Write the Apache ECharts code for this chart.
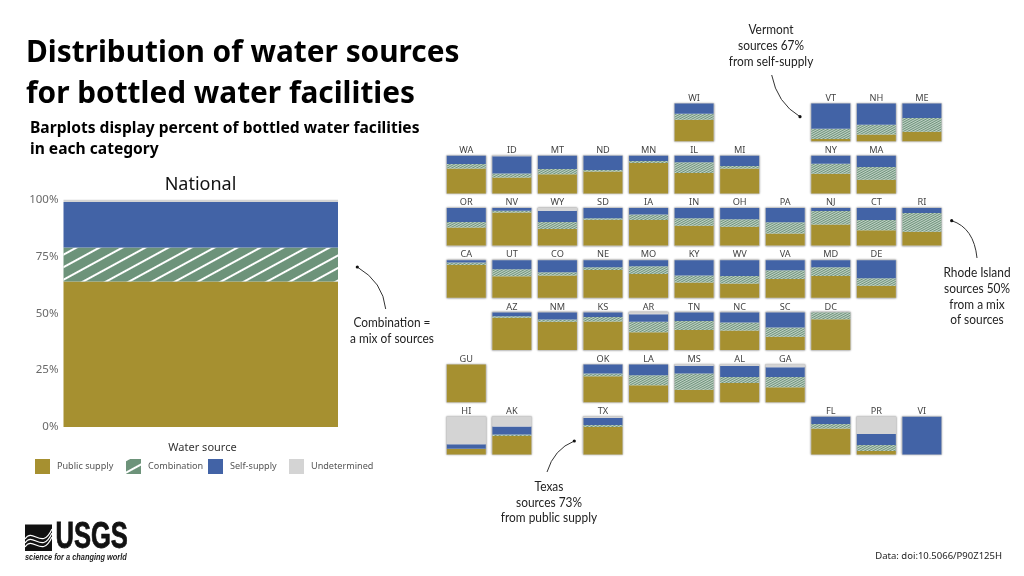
<!DOCTYPE html>
<html>
<head>
<meta charset="utf-8">
<style>html,body{margin:0;padding:0;background:#fff}#c{width:1024px;height:576px}</style>
<script src="https://cdn.jsdelivr.net/npm/echarts@6/dist/echarts.min.js"></script>
</head>
<body>
<div id="c"></div>
<script>
const sourceNames = ['Public supply', 'Combination', 'Self-supply', 'Undetermined'];
const yTickLabels = ['0%', '25%', '50%', '75%', '100%'];

const nationalValues = [64, 15, 20, 1];

const states        = ['WI','VT','NH','ME','WA','ID','MT','ND','MN','IL','MI','NY','MA','OR','NV','WY','SD','IA','IN','OH','PA','NJ','CT','RI','CA','UT','CO','NE','MO','KY','WV','VA','MD','DE','AZ','NM','KS','AR','TN','NC','SC','DC','GU','OK','LA','MS','AL','GA','HI','AK','TX','FL','PR','VI'];
const publicSupply  = [57,  6, 18, 25, 66, 42, 51, 58, 81, 54, 66, 52, 36, 48, 88, 44, 69, 68, 53, 50, 32, 56, 41, 37, 87, 57, 59, 74, 63, 41, 38, 50, 58, 32, 86, 75, 76, 47, 53, 52, 35, 82,100, 69, 45, 33, 51, 40, 15, 49, 73, 69,  9,  0];
const combination   = [16, 27, 26, 37, 12, 11, 14,  4,  5, 29,  7, 27, 34, 15,  5, 19,  4, 15, 20, 20, 30, 36, 27, 50,  7, 19,  9,  7, 21, 18, 20, 23, 23, 20,  4,  6, 12, 28, 24, 21, 25, 18,  0,  7, 27, 43, 16, 27,  0,  4,  5, 12, 16,  0];
const selfSupply    = [27, 67, 56, 38, 22, 46, 35, 38, 14, 17, 27, 21, 30, 37,  7, 30, 27, 17, 27, 30, 38,  8, 32, 13,  6, 24, 32, 19, 16, 41, 42, 27, 19, 48, 10, 19, 12, 20, 23, 27, 40,  0,  0, 24, 28, 21, 29, 26, 12, 21, 19, 19, 29,100];
const undetermined  = [ 0,  0,  0,  0,  0,  1,  0,  0,  0,  0,  0,  0,  0,  0,  0,  7,  0,  0,  0,  0,  0,  0,  0,  0,  0,  0,  0,  0,  0,  0,  0,  0,  0,  0,  0,  0,  0,  5,  0,  0,  0,  0,  0,  0,  0,  3,  4,  7, 73, 26,  3,  0, 46,  0];
const tileRow       = [ 0,  0,  0,  0,  1,  1,  1,  1,  1,  1,  1,  1,  1,  2,  2,  2,  2,  2,  2,  2,  2,  2,  2,  2,  3,  3,  3,  3,  3,  3,  3,  3,  3,  3,  4,  4,  4,  4,  4,  4,  4,  4,  5,  5,  5,  5,  5,  5,  6,  6,  6,  6,  6,  6];
const tileCol       = [ 5,  8,  9, 10,  0,  1,  2,  3,  4,  5,  6,  8,  9,  0,  1,  2,  3,  4,  5,  6,  7,  8,  9, 10,  0,  1,  2,  3,  4,  5,  6,  7,  8,  9,  1,  2,  3,  4,  5,  6,  7,  8,  0,  3,  4,  5,  6,  7,  0,  1,  3,  8,  9, 10];

const colors = ['#a69030', '#6d937a', '#4263a6', '#d4d4d4'];
const textFont = '"Noto Sans"';
const handFont = 'Lato';

const grids = [], xAxes = [], yAxes = [], series = [];

function addPanel(opts, values, decal) {
  const i = grids.length;
  grids.push(opts.grid);
  xAxes.push({
    type: 'category', gridIndex: i, data: [opts.label || ''], position: 'top',
    name: opts.label || '', nameLocation: 'middle', nameGap: 1,
    nameTextStyle: { fontFamily: textFont, fontSize: 9.2, color: '#444' },
    axisLine: { show: false }, axisTick: { show: false }, axisLabel: { show: false }, splitLine: { show: false }
  });
  yAxes.push(Object.assign({
    type: 'value', gridIndex: i, min: 0, max: 100, interval: 25,
    axisLine: { show: false }, axisTick: { show: false }, splitLine: { show: false }, axisLabel: { show: false }
  }, opts.y || {}));
  values.forEach((v, k) => {
    const itemStyle = { color: colors[k] };
    if (k === 1) itemStyle.decal = decal;
    series.push({
      type: 'bar', name: sourceNames[k], stack: 's' + i, xAxisIndex: i, yAxisIndex: i,
      data: [v], barWidth: '100%', silent: true, itemStyle
    });
  });
}

const bigDecal = { symbol: 'rect', symbolSize: 1, color: '#ffffff', dashArrayX: [1, 0], dashArrayY: [2, 9], rotation: -Math.PI / 6.3 };
const tinyDecal = { symbol: 'rect', symbolSize: 1, color: 'rgba(255,255,255,0.6)', dashArrayX: [1, 0], dashArrayY: [1, 1], rotation: -Math.PI / 6.3 };

addPanel({
  grid: { left: 63.5, top: 199.7, width: 274.5, height: 227.3 },
  y: { axisLabel: { show: true, fontFamily: textFont, fontSize: 11.5, color: '#6a6a6a', margin: 5,
       formatter: v => yTickLabels[v / 25] } },
}, nationalValues, bigDecal);

states.forEach((s, i) => {
  addPanel({
    label: s,
    grid: {
      left: 446.8 + tileCol[i] * 45.56, top: 103.6 + tileRow[i] * 52.2, width: 39, height: 37.6,
      show: true, backgroundColor: '#fff', borderColor: '#c8c8c8', borderWidth: 1,
      shadowColor: 'rgba(0,0,0,0.35)', shadowBlur: 2
    }
  }, [publicSupply[i], combination[i], selfSupply[i], undetermined[i]], tinyDecal);
});

const legendX = [35, 126, 208, 289];
const legends = sourceNames.map((n, i) => ({
  data: [n], left: legendX[i], top: 459, itemWidth: 15, itemHeight: 15, itemGap: 0, selectedMode: false,
  icon: 'rect', textStyle: { fontFamily: textFont, fontSize: 9.1, color: '#555', padding: [0, 0, 0, 2] }, padding: 0
}));

function text(x, y, t, size, o) {
  return { type: 'text', x, y, silent: true, style: Object.assign({ text: t, fontFamily: textFont, fontSize: size, fill: '#000', verticalAlign: 'middle' }, o || {}) };
}
function hand(x, y, lines, step) {
  return { type: 'text', x, y, scaleX: 0.85, silent: true, style: { text: lines.join('\n'), fontFamily: handFont, fontSize: 14, lineHeight: step, fill: '#222', align: 'center', verticalAlign: 'top' } };
}
function arrow(x1, y1, x2, y2, cx, cy) {
  return [
    { type: 'bezierCurve', silent: true, shape: { x1, y1, x2, y2, cpx1: cx, cpy1: cy }, style: { stroke: '#333', lineWidth: 1, fill: 'none' } },
    { type: 'circle', silent: true, shape: { cx: x2, cy: y2, r: 1.6 }, style: { fill: '#111' } }
  ];
}
function wave(y0, a) {
  return { type: 'bezierCurve', silent: true, shape: { x1: 25, y1: y0 + 4, x2: 52, y2: y0 - 6, cpx1: 33, cpy1: y0 - 6 - a, cpx2: 42, cpy2: y0 + 14 + a }, style: { stroke: '#fff', lineWidth: 1.2, fill: 'none' } };
}

const graphic = [
  text(26, 54, 'Distribution of water sources', 29.8, { fontWeight: 700 }),
  text(26, 95, 'for bottled water facilities', 29.8, { fontWeight: 700 }),
  text(30, 129, 'Barplots display percent of bottled water facilities', 15.6, { fontWeight: 700 }),
  text(30, 150, 'in each category', 15.6, { fontWeight: 700 }),
  text(200.5, 185, 'National', 18, { align: 'center', fill: '#111' }),
  text(202.5, 448, 'Water source', 11, { align: 'center', fill: '#333' }),
  text(1002, 556, 'Data: doi:10.5066/P90Z125H', 9.5, { align: 'right', fill: '#222' }),
  hand(392, 314, ['Combination =', 'a mix of sources'], 16),
  hand(771, 21, ['Vermont', 'sources 67%', 'from self-supply'], 16),
  hand(977, 265, ['Rhode Island', 'sources 50%', 'from a mix', 'of sources'], 15.6),
  hand(549, 479, ['Texas', 'sources 73%', 'from public supply'], 15.4),
  ...arrow(385.7, 309, 357.3, 267, 383, 282),
  ...arrow(771.7, 75, 800, 116.7, 777, 103),
  ...arrow(977, 258, 951.7, 220.7, 974, 228),
  ...arrow(547, 472, 574.3, 441, 554, 449),
  { type: 'rect', silent: true, shape: { x: 25, y: 524.5, width: 27, height: 26.5 }, style: { fill: '#111' } },
  wave(535, 2), wave(539, 2), wave(543, 2),
  { type: 'text', x: 55.5, y: 538, scaleX: 0.69, silent: true, style: { text: 'USGS', fontFamily: '"Liberation Sans"', fontWeight: 700, fontSize: 37, fill: '#111', stroke: '#111', lineWidth: 0.8, verticalAlign: 'middle' } },
  { type: 'text', x: 25, y: 557.5, scaleX: 0.85, silent: true, style: { text: 'science for a changing world', fontFamily: '"Liberation Sans"', fontWeight: 700, fontStyle: 'italic', fontSize: 8.7, fill: '#222', verticalAlign: 'middle' } }
];

const chart = echarts.init(document.getElementById('c'), null, { renderer: 'canvas', width: 1024, height: 576 });
chart.setOption({
  animation: false, backgroundColor: '#fff',
  grid: grids, xAxis: xAxes, yAxis: yAxes, series, legend: legends, graphic
});
</script>
</body>
</html>
